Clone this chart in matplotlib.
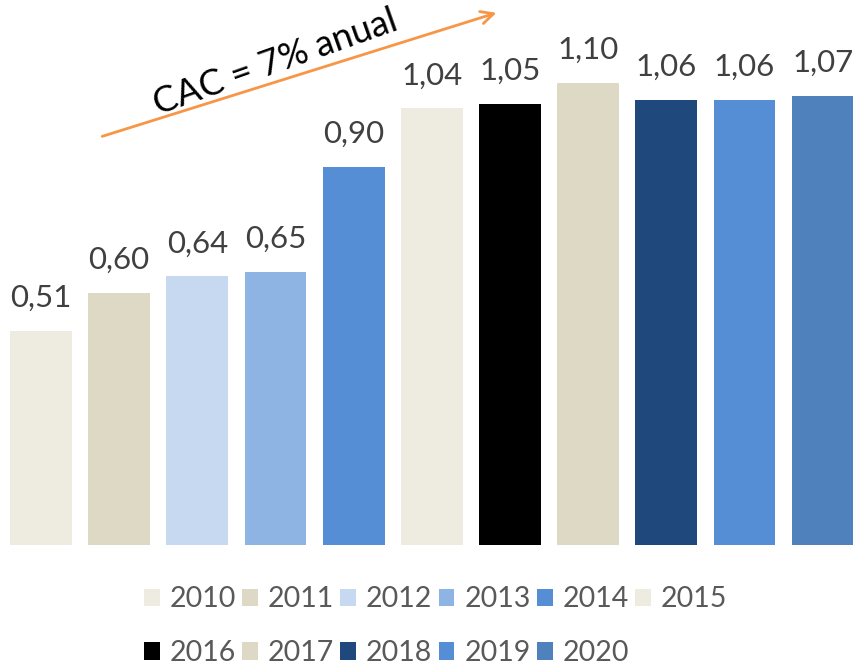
import matplotlib.pyplot as plt
from matplotlib.patches import Patch

years = ["2010", "2011", "2012", "2013", "2014", "2015",
         "2016", "2017", "2018", "2019", "2020"]
values = [0.51, 0.60, 0.64, 0.65, 0.90, 1.04, 1.05, 1.10, 1.06, 1.06, 1.07]
colors = ["#EEECE1", "#DDD9C4", "#C6D9F1", "#8EB4E3", "#558ED5", "#EEECE1",
          "#000000", "#DDD9C4", "#1F497D", "#558ED5", "#4F81BD"]

plt.rcParams['font.family'] = ['Lato', 'DejaVu Sans']

fig = plt.figure(figsize=(8.54, 6.69), dpi=100)
ax = fig.add_axes([0, 0.1853, 1, 0.8147])

x = range(len(years))
bars = ax.bar(x, values, width=0.79, color=colors)

# data labels
for xi, v in zip(x, values):
    ax.text(xi, v + 0.045, ("%.2f" % v).replace(".", ","), ha="center",
            va="bottom", fontsize=22.5, color="#404040")

ax.set_xlim(-0.524, 10.4)
ax.set_ylim(0, 1.2976)
ax.axis("off")

# growth arrow
ax.annotate("", xy=(5.86, 1.269), xytext=(0.75, 0.971),
            arrowprops=dict(arrowstyle="->,head_length=0.9,head_width=0.45",
                            color="#F79646", lw=2))
ax.text(3.0, 1.15, "CAC = 7% anual", rotation=19.5, ha="center", va="center",
        fontsize=26, color="black")

# legend ordered row by row
handles = [Patch(facecolor=c, label=y) for c, y in zip(colors, years)]
order = [0, 6, 1, 7, 2, 8, 3, 9, 4, 10, 5]
leg = fig.legend([handles[i] for i in order], [years[i] for i in order],
                 ncol=6, loc="upper left", bbox_to_anchor=(0.152, 0.145),
                 frameon=False, fontsize=20.5, labelcolor="#595959",
                 handlelength=0.55, handleheight=0.55, handletextpad=0.35,
                 columnspacing=0.22, labelspacing=0.98, borderpad=0)

fig.savefig("out.png", dpi=100)
